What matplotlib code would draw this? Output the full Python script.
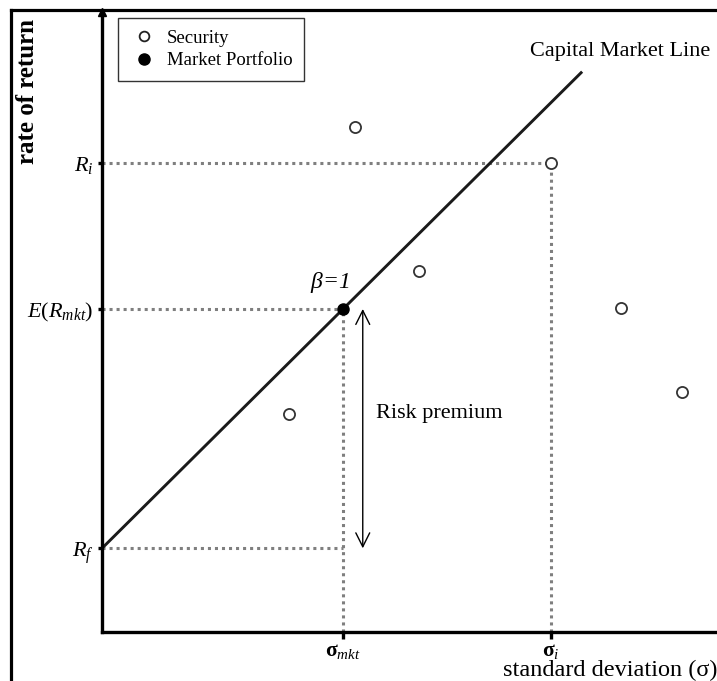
import matplotlib
matplotlib.use("Agg")
import matplotlib.pyplot as plt
from matplotlib.lines import Line2D

plt.rcParams['font.family'] = ['Liberation Serif', 'DejaVu Serif']
plt.rcParams['mathtext.fontset'] = 'custom'
plt.rcParams['mathtext.rm'] = 'Liberation Serif'
plt.rcParams['mathtext.it'] = 'Liberation Serif:italic'
plt.rcParams['mathtext.bf'] = 'Liberation Serif:bold'

# data (arbitrary units)
sec_sigma = [4.11, 7.30, 5.15, 8.44, 3.04, 9.43]
sec_return = [8.15, 7.56, 5.82, 5.23, 3.52, 3.87]
risk_free = 1.35
mkt_sigma = 3.92
mkt_return = 5.21
sigma_i = 7.30
return_i = 7.56
cml_end_sigma = 7.79

y_ticks = [risk_free, mkt_return, return_i]
y_labels = [r'$R_f$', r'$E(R_{mkt})$', r'$R_i$']
x_ticks = [mkt_sigma, sigma_i]
x_labels = [r'$\mathbf{σ}_{mkt}$', r'$\mathbf{σ}_i$']

W, H = 717, 681
fig = plt.figure(figsize=(W / 100, H / 100), dpi=100)
ax = fig.add_axes([102 / W, (H - 632) / H, (W - 102) / W, (632 - 12) / H])
ax.set_xlim(0, 10)
ax.set_ylim(0, 10)

# frame around the picture
fig.add_artist(Line2D([11 / W, 11 / W], [0, 1 - 10 / H], color='black', lw=2.3,
                      transform=fig.transFigure, solid_capstyle='projecting'))
fig.add_artist(Line2D([11 / W, 1], [1 - 10 / H, 1 - 10 / H], color='black', lw=2.3,
                      transform=fig.transFigure, solid_capstyle='projecting'))

# axes
for s in ['top', 'right']:
    ax.spines[s].set_visible(False)
for s in ['left', 'bottom']:
    ax.spines[s].set_linewidth(2.4)
ax.plot([0], [10], marker='^', color='black', markersize=6, clip_on=False, zorder=5)

ax.set_yticks(y_ticks)
ax.set_yticklabels(y_labels, fontsize=16)
ax.set_xticks(x_ticks)
ax.set_xticklabels(x_labels, fontsize=15.5)
ax.tick_params(axis='y', length=3, width=2.4, pad=3)
ax.tick_params(axis='x', length=5, width=2.4, pad=2)

# dotted guides
dot = dict(color='#7f7f7f', lw=2.2, linestyle=(0, (1, 1.3)), zorder=1)
ax.plot([0, mkt_sigma], [risk_free, risk_free], **dot)
ax.plot([0, mkt_sigma], [mkt_return, mkt_return], **dot)
ax.plot([mkt_sigma, mkt_sigma], [0, mkt_return], **dot)
ax.plot([0, sigma_i], [return_i, return_i], **dot)
ax.plot([sigma_i, sigma_i], [0, return_i], **dot)

# capital market line
slope = (mkt_return - risk_free) / mkt_sigma
ax.plot([0, cml_end_sigma], [risk_free, risk_free + slope * cml_end_sigma],
        color='#1a1a1a', lw=2.1, zorder=2)

# securities and market portfolio
ax.plot(sec_sigma, sec_return, 'o', markersize=8, markerfacecolor='white',
        markeredgecolor='#333333', markeredgewidth=1.3, zorder=3)
ax.plot([mkt_sigma], [mkt_return], 'o', markersize=8, color='black', zorder=4)

# risk premium arrow
ax.annotate('', xy=(4.24, mkt_return), xytext=(4.24, risk_free),
            arrowprops=dict(arrowstyle='<->,head_length=0.5,head_width=0.25',
                            mutation_scale=20, lw=1.0, color='black',
                            shrinkA=0, shrinkB=0))
ax.text(4.46, 3.52, 'Risk premium', fontsize=16, va='center', ha='left')
ax.text(3.71, 5.63, r'$\beta$=1', fontsize=17, style='italic', ha='center', va='center')
ax.text(8.42, 9.36, 'Capital Market Line', fontsize=16, ha='center', va='center')

# legend
handles = [
    Line2D([], [], marker='o', linestyle='none', markersize=7, markerfacecolor='white',
           markeredgecolor='#222222', markeredgewidth=1.3),
    Line2D([], [], marker='o', linestyle='none', markersize=8, color='black'),
]
leg = ax.legend(handles, ['Security', 'Market Portfolio'], loc='upper left',
                bbox_to_anchor=(0.026, 0.99), borderaxespad=0, fontsize=13.5,
                frameon=True, fancybox=False, handletextpad=0.4, handlelength=1.6,
                labelspacing=0.3, borderpad=0.6)
leg.get_frame().set_edgecolor('black')
leg.get_frame().set_linewidth(1.0)

# axis titles
fig.text(28 / W, 1 - 92 / H, 'rate of return', rotation=90, fontsize=18,
         fontweight='bold', ha='center', va='center')
fig.text(503 / W, 1 - 670 / H, 'standard deviation (σ)', fontsize=17.5,
         ha='left', va='center')

fig.savefig('out.png', dpi=100)
